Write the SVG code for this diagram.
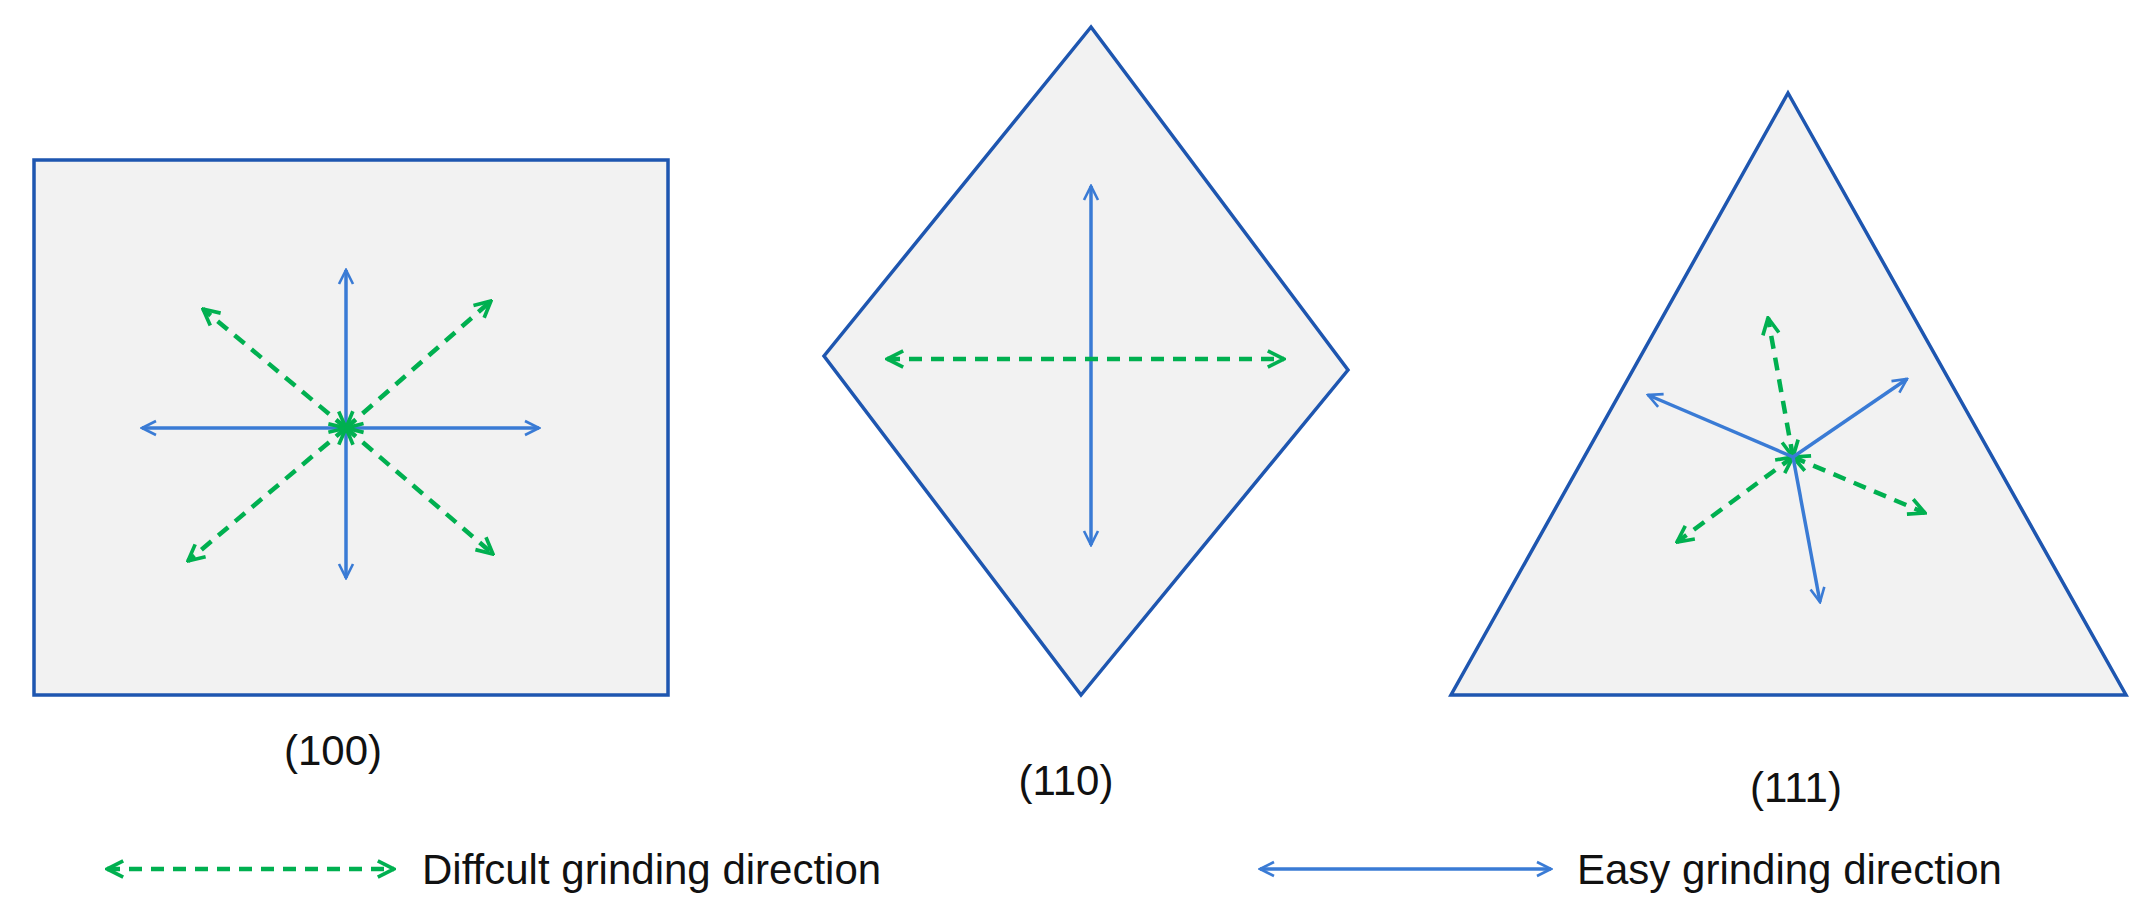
<svg xmlns="http://www.w3.org/2000/svg" width="2147" height="913" viewBox="0 0 2147 913">
<style>
.shape{fill:#f2f2f2;stroke:#1e56b0;stroke-width:3.5}
.easy{stroke:#3a7bd5;stroke-width:3.5;fill:none;marker-start:url(#ab);marker-end:url(#ab)}
.hard{stroke:#00b050;stroke-width:4.5;fill:none;stroke-dasharray:13 9;marker-start:url(#ag);marker-end:url(#ag)}
text{font-family:"Liberation Sans",Arial,sans-serif;font-size:42px;fill:#111}
</style>
<defs>
<marker id="ab" viewBox="0 0 10 10" refX="9" refY="5" markerWidth="5" markerHeight="5" orient="auto-start-reverse" markerUnits="strokeWidth"><path d="M1,1 L9,5 L1,9" fill="none" stroke="#3a7bd5" stroke-width="1.5"/></marker>
<marker id="ag" viewBox="0 0 10 10" refX="9" refY="5" markerWidth="4.5" markerHeight="4.5" orient="auto-start-reverse" markerUnits="strokeWidth"><path d="M1,1 L9,5 L1,9" fill="none" stroke="#00b050" stroke-width="1.8"/></marker>
</defs>
<g id="n100"><rect class="shape" x="34" y="160" width="634" height="535"/><text x="333" y="765" text-anchor="middle">(100)</text></g>
<g id="n110"><polygon class="shape" points="1091,27 1348,370 1081,695 824,356"/><text x="1066" y="795" text-anchor="middle">(110)</text></g>
<g id="n111"><polygon class="shape" points="1788,93 2126,695 1451,695"/><text x="1796" y="802" text-anchor="middle">(111)</text></g>
<g id="connectors">
<line class="easy" x1="346" y1="270" x2="346" y2="578"/>
<line class="easy" x1="142" y1="428" x2="539" y2="428"/>
<line class="hard" x1="346" y1="428" x2="203" y2="309"/>
<line class="hard" x1="346" y1="428" x2="491" y2="301"/>
<line class="hard" x1="346" y1="428" x2="188" y2="561"/>
<line class="hard" x1="346" y1="428" x2="493" y2="554"/>
<line class="easy" x1="1091" y1="186" x2="1091" y2="545"/>
<line class="hard" x1="887" y1="359" x2="1284" y2="359"/>
<line class="hard" x1="1793" y1="457" x2="1768" y2="318"/>
<line class="hard" x1="1793" y1="457" x2="1925" y2="513"/>
<line class="hard" x1="1793" y1="457" x2="1677" y2="542"/>
<line class="easy" style="marker-start:none" x1="1793" y1="457" x2="1648" y2="395"/>
<line class="easy" style="marker-start:none" x1="1793" y1="457" x2="1907" y2="379"/>
<line class="easy" style="marker-start:none" x1="1793" y1="457" x2="1820" y2="602"/>
</g>
<g id="legend">
<line class="hard" x1="107" y1="869" x2="394" y2="869"/>
<text x="422" y="884">Diffcult grinding direction</text>
<line class="easy" x1="1260" y1="869" x2="1551" y2="869"/>
<text x="1577" y="884">Easy grinding direction</text>
</g>
</svg>
